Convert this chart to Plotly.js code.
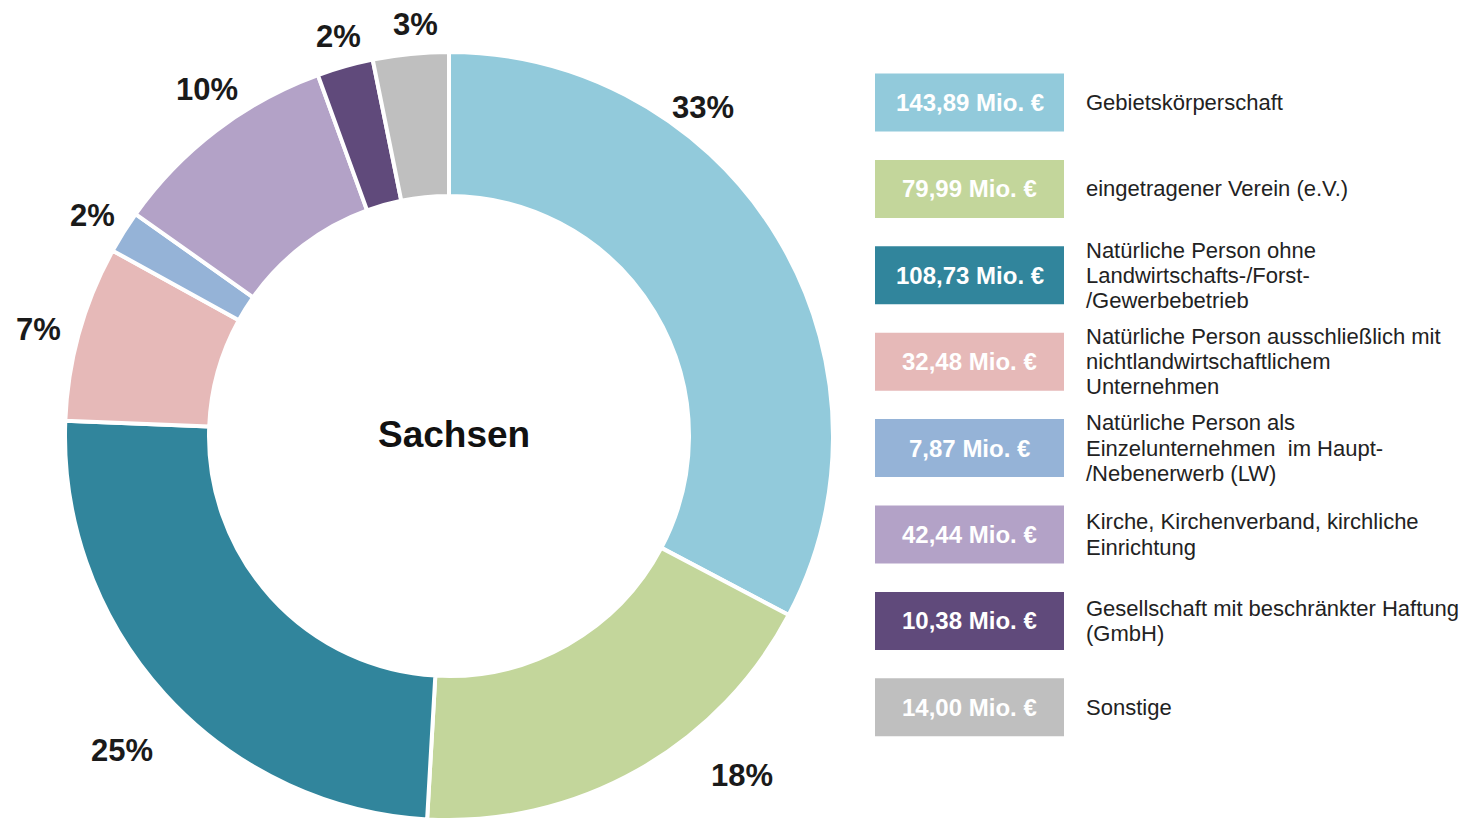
<!DOCTYPE html>
<html>
<head>
<meta charset="utf-8">
<script src="https://cdn.plot.ly/plotly-3.0.1.min.js"></script>
<style>
  html, body { margin: 0; padding: 0; background: #ffffff; }
  #chart { width: 1476px; height: 820px; }
</style>
</head>
<body>
<div id="chart"></div>
<script>
// ---- data ----
const categories = [
  "Gebietskörperschaft",
  "eingetragener Verein (e.V.)",
  "Natürliche Person ohne<br>Landwirtschafts-/Forst-<br>/Gewerbebetrieb",
  "Natürliche Person ausschließlich mit<br>nichtlandwirtschaftlichem<br>Unternehmen",
  "Natürliche Person als<br>Einzelunternehmen  im Haupt-<br>/Nebenerwerb (LW)",
  "Kirche, Kirchenverband, kirchliche<br>Einrichtung",
  "Gesellschaft mit beschränkter Haftung<br>(GmbH)",
  "Sonstige"
];
const valuesMio = [143.89, 79.99, 108.73, 32.48, 7.87, 42.44, 10.38, 14.00];
const colors = ["#92CADB", "#C3D69B", "#31859C", "#E6B9B8", "#95B3D7", "#B3A2C7", "#604A7B", "#BFBFBF"];
const centerLabel = "Sachsen";
const unit = "Mio. €";

// ---- layout helpers (positions only, not data) ----
const W = 1476, H = 820;
const px = x => x / W;
const py = y => 1 - y / H;
const FONT = "'Liberation Sans', Arial, sans-serif";

const total = valuesMio.reduce((a, b) => a + b, 0);
const pctText = valuesMio.map(v => Math.round(v / total * 100) + "%");

// label placement for percentage texts (pixel centres, like the reference)
const pctPos = [[703, 107], [742, 775], [122, 750], [38, 329], [92, 215], [207, 90], [338, 36], [416, 24]];

const annotations = [];
const shapes = [];

pctText.forEach((t, i) => {
  annotations.push({
    xref: "paper", yref: "paper", x: px(pctPos[i][0]), y: py(pctPos[i][1]),
    xanchor: "center", yanchor: "middle", showarrow: false,
    text: "<b>" + t + "</b>",
    font: { family: FONT, size: 31, color: "#1a1a1a" }
  });
});

annotations.push({
  xref: "paper", yref: "paper", x: px(454), y: py(434),
  xanchor: "center", yanchor: "middle", showarrow: false,
  text: "<b>" + centerLabel + "</b>",
  font: { family: FONT, size: 37, color: "#111111" }
});

// custom legend: coloured boxes with values, labels to the right
const boxLeft = 875, boxRight = 1064, boxH = 58, firstCenter = 102.5, step = 86.4, lineStep = 25.2;
categories.forEach((lab, i) => {
  const cy = firstCenter + i * step;
  shapes.push({
    type: "rect", xref: "paper", yref: "paper",
    x0: px(boxLeft), x1: px(boxRight), y0: py(cy + boxH / 2), y1: py(cy - boxH / 2),
    fillcolor: colors[i], line: { width: 0 }
  });
  annotations.push({
    xref: "paper", yref: "paper", x: px((boxLeft + boxRight) / 2), y: py(cy),
    xanchor: "center", yanchor: "middle", showarrow: false,
    text: "<b>" + valuesMio[i].toFixed(2).replace(".", ",") + " " + unit + "</b>",
    font: { family: FONT, size: 24, color: "#ffffff" }
  });
  const lines = lab.split("<br>");
  lines.forEach((ln, j) => {
    annotations.push({
      xref: "paper", yref: "paper", x: px(1084), y: py(cy + (j - (lines.length - 1) / 2) * lineStep),
      xanchor: "left", yanchor: "middle", showarrow: false,
      text: ln.replace(/  /g, " &nbsp;"),
      font: { family: FONT, size: 22, color: "#222222" }
    });
  });
});

const trace = {
  type: "pie",
  labels: categories.map(c => c.replace(/<br>/g, " ")),
  values: valuesMio,
  sort: false,
  direction: "clockwise",
  rotation: 0,
  hole: 0.625,
  textinfo: "none",
  hovertemplate: "%{label}<br>%{value:.2f} Mio. €<br>%{percent}<extra></extra>",
  marker: { colors: colors, line: { color: "#ffffff", width: 4 } },
  domain: { x: [px(65), px(833)], y: [0, 768 / H] },
  showlegend: false
};

const layout = {
  width: W, height: H,
  margin: { l: 0, r: 0, t: 0, b: 0 },
  paper_bgcolor: "#ffffff",
  plot_bgcolor: "#ffffff",
  showlegend: false,
  annotations: annotations,
  shapes: shapes,
  font: { family: FONT }
};

Plotly.newPlot("chart", [trace], layout, { displayModeBar: false, responsive: false });
</script>
</body>
</html>
